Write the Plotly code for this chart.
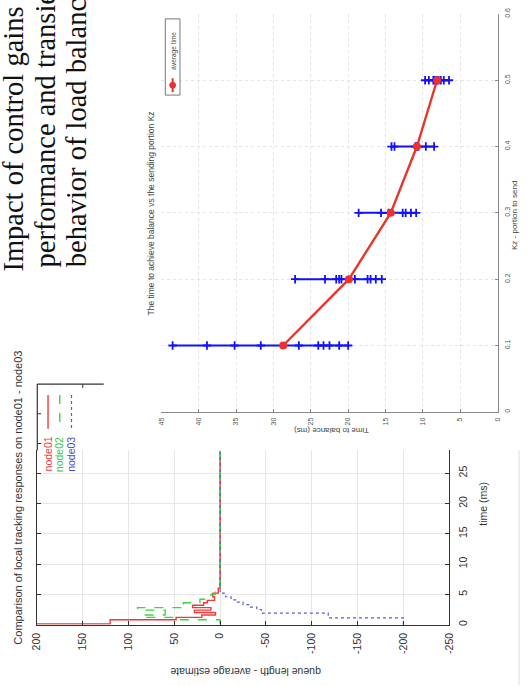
import plotly.graph_objects as go

W, H = 527, 686

# ---------------- data: right chart (time to balance vs Kz) ----------------
kz_levels = [0.1, 0.2, 0.3, 0.4, 0.5]
avg_time = [28.7, 19.9, 14.3, 10.8, 8.1]
runs_kz01 = [43.5, 38.9, 35.2, 31.7, 26.6, 24.0, 23.3, 22.5, 21.2, 20.0]
runs_kz02 = [27.1, 23.1, 21.6, 21.2, 20.9, 19.1, 17.4, 17.0, 16.3, 15.5]
runs_kz03 = [18.6, 15.6, 14.6, 12.7, 12.3, 11.6, 10.9]
runs_kz04 = [14.2, 13.8, 11.0, 10.8, 10.6, 9.6, 8.5]
runs_kz05 = [9.7, 9.2, 8.6, 8.4, 8.1, 7.9, 7.6, 7.2, 6.5]
runs_all = [runs_kz01, runs_kz02, runs_kz03, runs_kz04, runs_kz05]

# ---------------- data: left chart (tracking responses) ----------------
t_node01 = [0, 0.1, 0.8, 1.2, 1.6, 2.0, 2.4, 2.8, 3.2, 3.6, 4.0, 4.6, 5.2, 6.0, 28.6]
q_node01 = [200, 120, 48, 20, 5, 28, 10, 30, 18, 14, 6, 8, 2, 0, 0]
t_node02 = [0, 0.8, 1.2, 1.6, 2.4, 2.8, 3.3, 3.6, 4.2, 5.0, 6.0, 28.6]
q_node02 = [0, 50, 85, 60, 90, 38, 40, 22, 10, 5, 0, 0]
t_node03 = [0, 1.1, 1.9, 2.5, 2.9, 3.3, 3.7, 4.1, 4.6, 5.2, 6.0, 28.6]
q_node03 = [-200, -118, -45, -40, -32, -25, -18, -12, -6, 0, 0, 0]

val_ticks = [200, 150, 100, 50, 0, -50, -100, -150, -200, -250]
time_ticks = [0, 5, 10, 15, 20, 25]
bal_ticks = [0, 5, 10, 15, 20, 25, 30, 35, 40, 45]
kz_ticks = [0, 0.1, 0.2, 0.3, 0.4, 0.5, 0.6]
kz_labels = ["0", "0.1", "0.2", "0.3", "0.4", "0.5", "0.6"]


def px(x):
    return x / W


def py(y):
    return 1 - y / H


fig = go.Figure()

# left chart traces (rotated: value horizontal, time vertical)
fig.add_trace(go.Scatter(x=q_node01, y=t_node01, mode="lines", line=dict(color="#f03a3a", width=1.4, shape="vh"),
                         xaxis="x", yaxis="y", showlegend=False))
fig.add_trace(go.Scatter(x=q_node02, y=t_node02, mode="lines", line=dict(color="#38d838", width=1.4, shape="vh", dash="dash"),
                         xaxis="x", yaxis="y", showlegend=False))
fig.add_trace(go.Scatter(x=q_node03, y=t_node03, mode="lines", line=dict(color="#5a5ad8", width=1.2, shape="vh", dash="dot"),
                         xaxis="x", yaxis="y", showlegend=False))

# right chart traces
for kz, runs in zip(kz_levels, runs_all):
    fig.add_trace(go.Scatter(x=runs, y=[kz] * len(runs), mode="lines+markers",
                             line=dict(color="#1010ff", width=2),
                             marker=dict(symbol="cross-thin", size=6, line=dict(color="#1010ff", width=1.8)),
                             xaxis="x2", yaxis="y2", showlegend=False))
fig.add_trace(go.Scatter(x=avg_time, y=kz_levels, mode="lines+markers",
                         line=dict(color="#e8362a", width=2.4),
                         marker=dict(symbol="circle", size=8, color="#f03030"),
                         xaxis="x2", yaxis="y2", showlegend=False))

axfont_l = dict(family="Liberation Sans, Arial", size=10.5, color="#333333")
axfont_r = dict(family="Liberation Sans, Arial", size=7, color="#555555")

fig.update_layout(
    width=W, height=H,
    margin=dict(l=0, r=0, t=0, b=0),
    paper_bgcolor="white", plot_bgcolor="rgba(0,0,0,0)",
    xaxis=dict(domain=[px(30.5), px(452.5)], range=[200, -250], tickvals=val_ticks,
               ticktext=[str(v) for v in val_ticks], tickangle=-90, tickfont=axfont_l,
               showline=True, linecolor="#333333", linewidth=1.2, ticks="inside", ticklen=4,
               tickcolor="#333333", showgrid=True, gridcolor="#e6e6e6", gridwidth=1,
               zeroline=False, anchor="y", ticklabelstandoff=3),
    yaxis=dict(domain=[py(625), py(449)], range=[0, 28.76], tickvals=time_ticks, side="right",
               tickangle=-90, tickfont=axfont_l, showline=True, mirror="ticks", linecolor="#333333",
               linewidth=1.2, ticks="inside", ticklen=4, tickcolor="#333333", showgrid=True,
               gridcolor="#e6e6e6", zeroline=False, anchor="x", ticklabelstandoff=4),
    xaxis2=dict(domain=[px(158), px(502)], range=[45, 0], tickvals=bal_ticks, tickangle=-90,
                tickfont=axfont_r, showline=True, linecolor="#888888", linewidth=1, ticks="inside",
                ticklen=3, tickcolor="#888888", showgrid=True, gridcolor="#e4e4e4", griddash="dot",
                zeroline=False, anchor="y2", ticklabelstandoff=2),
    yaxis2=dict(domain=[py(410), py(8)], range=[0, 0.6], tickvals=kz_ticks, ticktext=kz_labels,
                side="right", tickangle=-90, tickfont=axfont_r, showline=True, linecolor="#888888",
                linewidth=1, ticks="inside", ticklen=3, tickcolor="#888888", showgrid=True,
                gridcolor="#e4e4e4", griddash="dot", zeroline=False, anchor="x2", ticklabelstandoff=3),
)

shapes = []
# extension of the left chart frame (rest is hidden under the right chart picture)
shapes.append(dict(type="line", xref="paper", yref="paper", x0=px(31), x1=px(31), y0=py(449), y1=py(382),
                   line=dict(color="#333333", width=1.2)))
shapes.append(dict(type="line", xref="paper", yref="paper", x0=px(31), x1=px(99), y0=py(382), y1=py(382),
                   line=dict(color="#333333", width=1.2)))
shapes.append(dict(type="line", xref="paper", yref="paper", x0=px(77.5), x1=px(77.5), y0=py(382), y1=py(386),
                   line=dict(color="#333333", width=1)))
for ty in (412, 442):
    shapes.append(dict(type="line", xref="paper", yref="paper", x0=px(31), x1=px(35), y0=py(ty), y1=py(ty),
                       line=dict(color="#333333", width=1)))
# left legend samples
shapes.append(dict(type="line", xref="paper", yref="paper", x0=px(42), x1=px(42), y0=py(393), y1=py(427),
                   line=dict(color="#f03a3a", width=1.4)))
shapes.append(dict(type="line", xref="paper", yref="paper", x0=px(54), x1=px(54), y0=py(393), y1=py(427),
                   line=dict(color="#38d838", width=1.4, dash="dash")))
shapes.append(dict(type="line", xref="paper", yref="paper", x0=px(66), x1=px(66), y0=py(393), y1=py(427),
                   line=dict(color="#5a5ad8", width=1.2, dash="dot")))
# right legend box
shapes.append(dict(type="rect", xref="paper", yref="paper", x0=px(162), x1=px(177), y0=py(90), y1=py(13),
                   line=dict(color="#777777", width=1), fillcolor="white"))
shapes.append(dict(type="line", xref="paper", yref="paper", x0=px(169.5), x1=px(169.5), y0=py(87), y1=py(73),
                   line=dict(color="#e8362a", width=2)))
shapes.append(dict(type="circle", xref="paper", yref="paper", x0=px(166.5), x1=px(172.5), y0=py(83), y1=py(77),
                   line=dict(color="#f03030", width=1), fillcolor="#f03030"))
# faint page edge at lower right
shapes.append(dict(type="line", xref="paper", yref="paper", x0=px(524), x1=px(524), y0=py(449), y1=py(686),
                   line=dict(color="#dddddd", width=1)))
fig.update_layout(shapes=shapes)

ann = []


def add_text(text, x, y, size, color="#333333", angle=-90, family="Liberation Sans, Arial",
             xanchor="center", yanchor="middle"):
    ann.append(dict(text=text, x=px(x), y=py(y), xref="paper", yref="paper", showarrow=False,
                    textangle=angle, xanchor=xanchor, yanchor=yanchor,
                    font=dict(family=family, size=size, color=color)))


serif = "Liberation Serif, Times New Roman"
# slide heading (runs off the top edge of the page, as in the photo)
add_text("Impact of control gains", 7, 270, 28.5, "#111111", family=serif, yanchor="bottom")
add_text("performance and transient", 39, 266, 28.5, "#111111", family=serif, yanchor="bottom")
add_text("behavior of load balancing", 71, 266, 28.5, "#111111", family=serif, yanchor="bottom")

# left chart texts
add_text("Comparison of local tracking responses on node01 - node03", 11, 497, 11)
add_text("queue length - average estimate", 244, 673, 10.5, angle=180)
add_text("time (ms)", 487, 503, 10.5)
add_text("node01", 42, 453, 10.5, "#f03a3a")
add_text("node02", 54, 453, 10.5, "#38c838")
add_text("node03", 66, 453, 10.5, "#4a4ad0")

# right chart texts
add_text("The time to achieve balance vs the sending portion Kz", 147, 210, 8.5, "#444444")
add_text("Kz - portion to send", 520, 212, 8, "#444444")
add_text("Time to balance (ms)", 332, 429, 8, "#444444", angle=180)
add_text("average time", 170, 45, 6.5, "#444444")

fig.update_layout(annotations=ann)

fig.write_html("out.html", config={"displayModeBar": False},
               post_script="document.body.style.margin='0px';")
